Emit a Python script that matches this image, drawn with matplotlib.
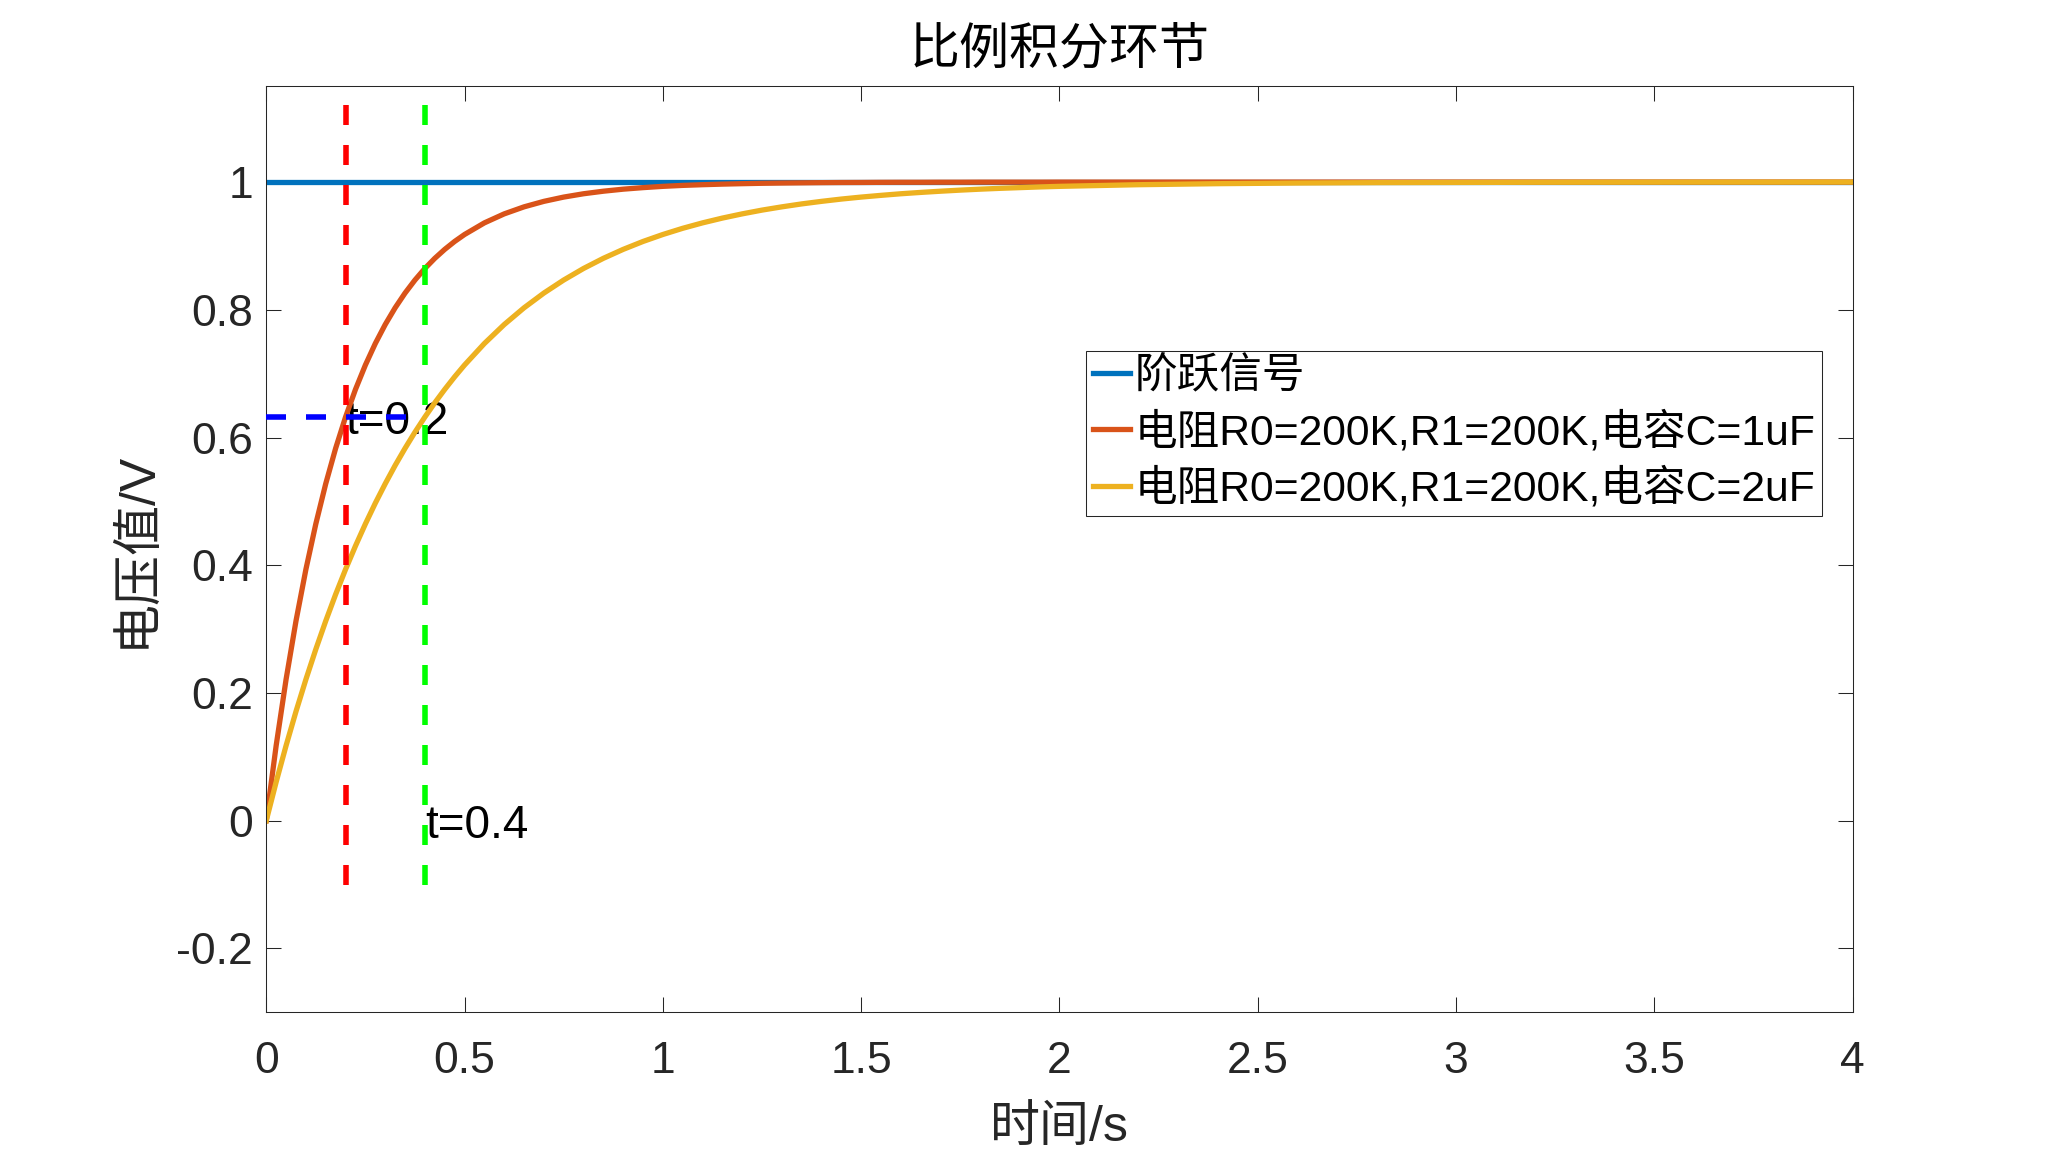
import matplotlib
matplotlib.use("Agg")
import matplotlib.pyplot as plt

plt.rcParams['font.family'] = ['Liberation Sans', 'Noto Sans CJK SC']
plt.rcParams['lines.scale_dashes'] = False

# 时间 / s
t = [0, 0.025, 0.05, 0.075, 0.1, 0.125, 0.15, 0.175, 0.2, 0.225, 0.25, 0.275, 0.3,
     0.325, 0.35, 0.375, 0.4, 0.425, 0.45, 0.475, 0.5, 0.55, 0.6, 0.65, 0.7, 0.75,
     0.8, 0.85, 0.9, 0.95, 1.0, 1.05, 1.1, 1.15, 1.2, 1.25, 1.3, 1.35, 1.4, 1.45,
     1.5, 1.55, 1.6, 1.65, 1.7, 1.75, 1.8, 1.85, 1.9, 1.95, 2.0, 2.2, 2.4, 2.6,
     2.8, 3.0, 3.2, 3.4, 3.6, 3.8, 4.0]
# C=1uF
u_c1 = [0, 0.1175, 0.2212, 0.3127, 0.3935, 0.4647, 0.5276, 0.5831, 0.6321, 0.6753,
        0.7135, 0.7472, 0.7769, 0.8031, 0.8262, 0.8466, 0.8647, 0.8806, 0.8946, 0.9070,
        0.9179, 0.9361, 0.9502, 0.9612, 0.9698, 0.9765, 0.9817, 0.9857, 0.9889, 0.9913,
        0.9933, 0.9948, 0.9959, 0.9968, 0.9975, 0.9981, 0.9985, 0.9988, 0.9991, 0.9993,
        0.9994, 0.9996, 0.9997, 0.9997, 0.9998, 0.9998, 0.9999, 0.9999, 0.9999, 0.9999,
        1.0, 1.0, 1.0, 1.0, 1.0, 1.0, 1.0, 1.0, 1.0, 1.0, 1.0]
# C=2uF
u_c2 = [0, 0.0606, 0.1175, 0.1710, 0.2212, 0.2684, 0.3127, 0.3544, 0.3935, 0.4302,
        0.4647, 0.4972, 0.5276, 0.5563, 0.5831, 0.6084, 0.6321, 0.6544, 0.6753, 0.6950,
        0.7135, 0.7472, 0.7769, 0.8031, 0.8262, 0.8466, 0.8647, 0.8806, 0.8946, 0.9070,
        0.9179, 0.9276, 0.9361, 0.9436, 0.9502, 0.9561, 0.9612, 0.9658, 0.9698, 0.9734,
        0.9765, 0.9792, 0.9817, 0.9838, 0.9857, 0.9874, 0.9889, 0.9902, 0.9913, 0.9924,
        0.9933, 0.9959, 0.9975, 0.9985, 0.9991, 0.9994, 0.9997, 0.9998, 0.9999, 0.9999,
        1.0]
step_t = [0, 4]
step_u = [1, 1]

labels = ["阶跃信号",
          "电阻R0=200K,R1=200K,电容C=1uF",
          "电阻R0=200K,R1=200K,电容C=2uF"]

# 标记线
mark_y = [1.12, -0.1]
t_red = [0.2, 0.2]
t_green = [0.4, 0.4]
level_t = [0, 0.4]
level_u = [0.632, 0.632]

x_ticks = [0, 0.5, 1, 1.5, 2, 2.5, 3, 3.5, 4]
x_tick_labels = ["0", "0.5", "1", "1.5", "2", "2.5", "3", "3.5", "4"]
y_ticks = [-0.2, 0, 0.2, 0.4, 0.6, 0.8, 1]
y_tick_labels = ["-0.2", "0", "0.2", "0.4", "0.6", "0.8", "1"]

gray = (0.15, 0.15, 0.15)

fig = plt.figure(figsize=(20.48, 11.52), dpi=100)
ax = fig.add_axes([0.1300, 0.1213, 0.7746, 0.8038])

l1, = ax.plot(step_t, step_u, color="#0072BD", lw=3.8)
l2, = ax.plot(t, u_c1, color="#D95319", lw=3.8)
l3, = ax.plot(t, u_c2, color="#EDB120", lw=3.8)

ax.plot(t_red, mark_y, color="#FF0000", lw=4, dashes=(14.4, 14.4), zorder=3)
ax.plot(t_green, mark_y, color="#00FF00", lw=4, dashes=(14.4, 14.4), zorder=3)
ax.plot(level_t, level_u, color="#0000FF", lw=4, dashes=(14.4, 14.4), zorder=3)

ax.text(0.2, 0.632, "t=0.2", fontsize=33, ha="left", va="center_baseline", zorder=1.5)
ax.text(0.4, 0.0, "t=0.4", fontsize=33, ha="left", va="center_baseline", zorder=1.5)

ax.set_xlim(0, 4)
ax.set_ylim(-0.3, 1.15)
ax.set_xticks(x_ticks, x_tick_labels)
ax.set_yticks(y_ticks, y_tick_labels)
ax.tick_params(direction="in", length=11, width=0.75, color=gray, labelcolor=gray,
               labelsize=32, top=True, right=True)
ax.tick_params(axis="x", pad=21)
ax.tick_params(axis="y", pad=9.5)
for s in ax.spines.values():
    s.set_color(gray)
    s.set_linewidth(0.75)

ax.set_title("比例积分环节", fontsize=36, y=1.0395, pad=0, va="center")
ax.set_xlabel("时间/s", fontsize=36, color=gray)
ax.set_ylabel("电压值/V", fontsize=36, color=gray)
ax.xaxis.label.set_va("center")
ax.yaxis.label.set_va("center")
ax.xaxis.set_label_coords(0.5, -0.125)
ax.yaxis.set_label_coords(-0.0815, 0.5)

leg = ax.legend([l1, l2, l3], labels, loc="upper left",
                bbox_to_anchor=(1086.3 / 2048, 1 - 350.7 / 1152),
                bbox_transform=fig.transFigure, borderaxespad=0,
                fontsize=30.7, handlelength=0.88, handletextpad=0.1,
                borderpad=0.15, labelspacing=0.34, fancybox=False,
                framealpha=1, edgecolor=gray)
leg.get_frame().set_linewidth(0.75)

fig.savefig("out.png", dpi=100, facecolor="white")
